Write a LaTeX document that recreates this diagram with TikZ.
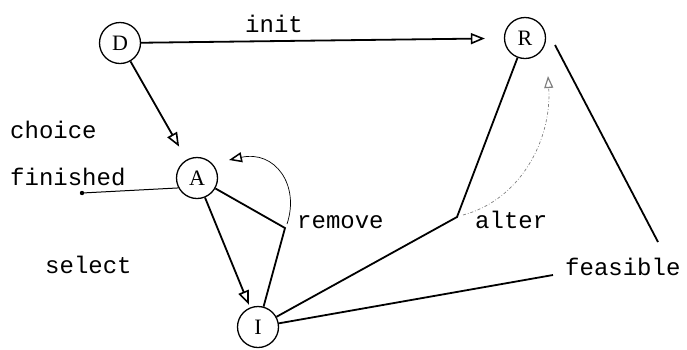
\documentclass[tikz,border=0pt]{standalone}
\usepackage{fontspec}
\newfontfamily\labfont{Liberation Mono}
\newfontfamily\nodefont{Liberation Serif}
\usetikzlibrary{arrows.meta}
\tikzset{
  state/.style={circle, draw, line width=1.3pt, minimum size=41pt, inner sep=0pt, font=\nodefont\fontsize{22}{22}\selectfont},
  lbl/.style={font=\labfont\fontsize{24}{24}\selectfont, inner sep=0pt, anchor=base west},
  edge/.style={line width=1.8pt},
  tip/.style={-{Triangle[open,length=14pt,width=11pt,line width=1.6pt]}},
  thinarc/.style={line width=0.7pt},
  dotarc/.style={line width=0.7pt, dash dot, gray}
}
\begin{document}
\begin{tikzpicture}[x=1pt,y=-1pt]
\useasboundingbox (0,0) rectangle (687,349);
% states
\node[state] (D) at (120,43) {D};
\node[state] (R) at (525,38) {R};
\node[state] (A) at (197,178) {A};
\node[state] (I) at (258,327) {I};
% helper coordinates
\coordinate (J1) at (285,228);
\coordinate (J2) at (457,217);
\coordinate (Fin) at (82,193);
\coordinate (Fe) at (553,275);
\coordinate (L1) at (555,45);
\coordinate (L2) at (658,242);
\coordinate (Rtip) at (229,160);
\coordinate (Atip) at (548,76);
% labels
\node[lbl] (linit) at (245,32) {init};
\node[lbl] (lchoice) at (10,138) {choice};
\node[lbl] (lfin) at (10,185) {finished};
\node[lbl] (lsel) at (45,273) {select};
\node[lbl] (lrem) at (297,228) {remove};
\node[lbl] (lalt) at (475,228) {alter};
\node[lbl] (lfeas) at (565,275) {feasible};
% edges
\draw[edge,tip,shorten >=19pt] (D) -- (R);
\draw[edge,tip,shorten >=15pt] (D) -- (A);
\draw[edge,tip,shorten >=3pt] (A) -- (I);
\draw[line width=1pt] (A.208) -- (Fin);
\fill (Fin) circle (2.2pt);
\draw[edge] (A) -- (J1) -- (I);
\draw[thinarc,-{Triangle[open,length=13pt,width=10pt,line width=1.5pt]}] (J1) ++(2,-4) .. controls (300,185) and (275,150) .. (Rtip);
\draw[edge] (I) -- (J2) -- (R);
\draw[dotarc,-{Triangle[open,length=12pt,width=9pt,line width=1.2pt]}] (J2) ++(6,-2) .. controls (520,200) and (552,140) .. (Atip);
\draw[edge] (I) -- (Fe);
\draw[edge] (L1) -- (L2);
\end{tikzpicture}
\end{document}
